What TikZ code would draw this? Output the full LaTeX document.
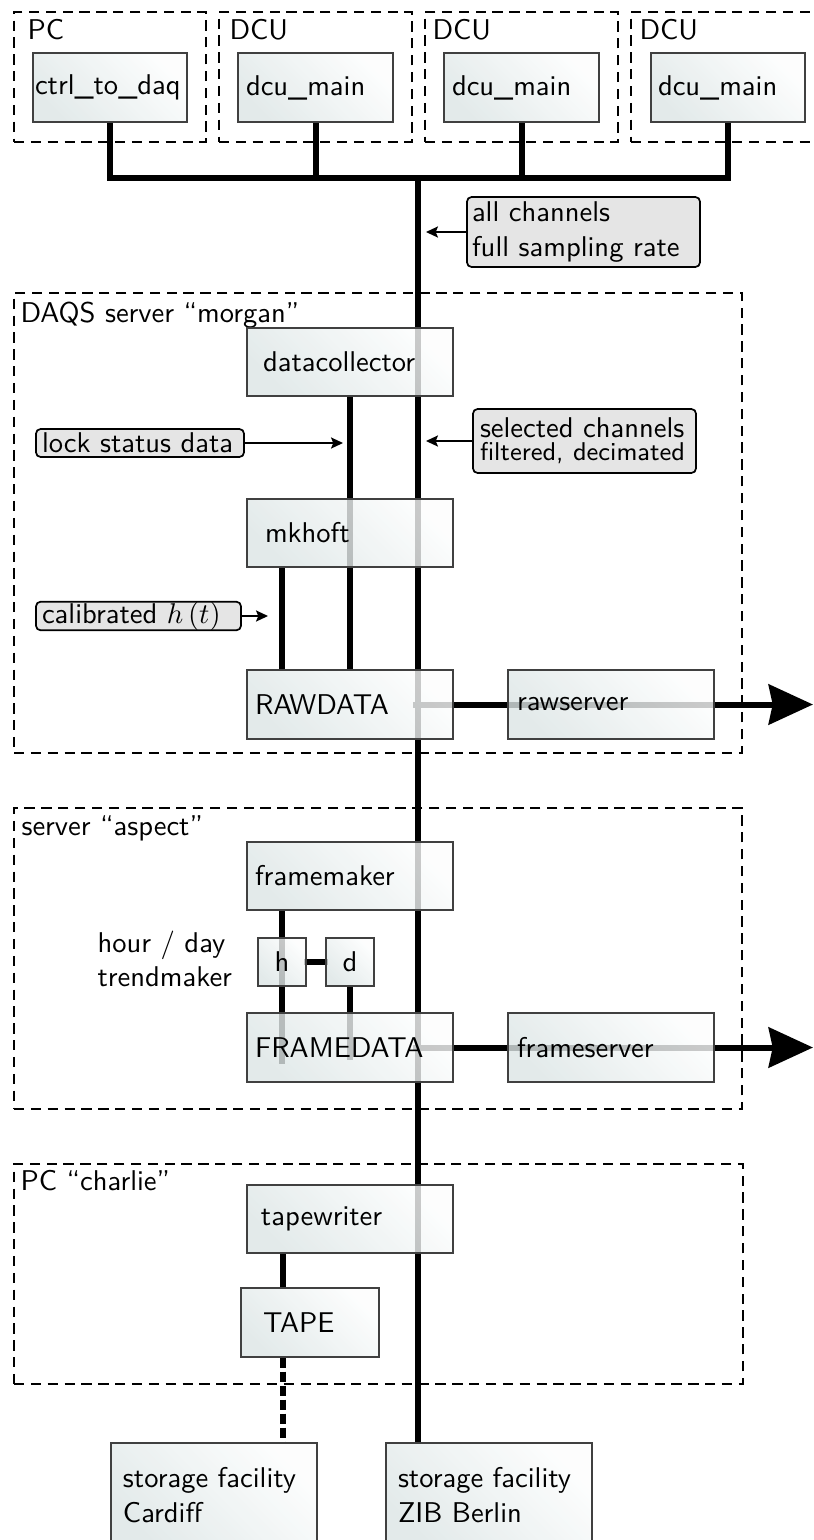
\documentclass[tikz,border=0pt]{standalone}
\usetikzlibrary{arrows.meta,calc}
\pgfdeclarelayer{bg}
\pgfsetlayers{bg,main}
\definecolor{boxA}{RGB}{220,229,229}
\definecolor{boxB}{RGB}{252,253,253}
\definecolor{infofill}{RGB}{229,229,229}
\tikzset{
  pbox/.code n args={3}{%
    \pgfmathsetlengthmacro\pbw{#1*0.35pt}%
    \pgfmathsetlengthmacro\pbh{#2*0.35pt}%
    \pgfmathsetlengthmacro\pbt{(#1-2*#3)*0.35pt}%
    \edef\pbtmp{\noexpand\tikzset{minimum width=\pbw,minimum height=\pbh,text width=\pbt}}\pbtmp},
  sz/.style 2 args={minimum width=#1*0.35pt, minimum height=#2*0.35pt},
  proc/.style={rectangle, draw=black!75, line width=0.45pt, left color=boxA, right color=boxB,
    shading angle=135, fill opacity=0.8, text opacity=1, draw opacity=1,
    inner sep=0pt, align=left, font=\sffamily},
  info/.style={rectangle, draw=black, line width=0.6pt, rounded corners=1.6pt, fill=infofill,
    inner sep=0pt, align=left, font=\sffamily},
  grp/.style={rectangle, draw=black, line width=0.85pt, dash pattern=on 3.6pt off 2.3pt, inner sep=0pt},
  grplabel/.style={anchor=base west, inner sep=0pt, font=\sffamily},
  bus/.style={line width=2.1pt},
  thinarrow/.style={line width=0.5pt, -{Stealth[length=4.2pt,width=3.9pt,inset=0.8pt]}},
  bigarrow/.style={line width=2.1pt, -{Stealth[length=15.5pt,width=14pt,inset=1.4pt]}},
}
\begin{document}
\begin{tikzpicture}[x=0.35pt,y=-0.35pt]
\useasboundingbox (0,0) rectangle (814,1540);

% group containers
\node[grp, sz={192}{130}] (gpc) at (110,77) {};
\node[grp, sz={193}{130}] (gdcua) at (315.5,77) {};
\node[grp, sz={193}{130}] (gdcub) at (521.5,77) {};
\node[grp, sz={193}{130}] (gdcuc) at (727.5,77) {};
\node[grp, sz={728}{460}] (gdaqs) at (378,523) {};
\node[grp, sz={728}{301}] (gaspect) at (378,958.5) {};
\node[grp, sz={729}{220}] (gcharlie) at (378.5,1274) {};

\node[grplabel] (lpc) at (27,39) {PC};
\node[grplabel] (ldcua) at (229,39) {DCU};
\node[grplabel] (ldcub) at (432,39) {DCU};
\node[grplabel] (ldcuc) at (639,39) {DCU};
\node[grplabel] (ldaqs) at (20,322) {DAQS server “morgan”};
\node[grplabel] (laspect) at (21,835) {server “aspect”};
\node[grplabel] (lcharlie) at (20,1190) {PC “charlie”};

% process boxes
\node[proc, pbox={154}{69}{2}] (ctrl) at (110,87.5) {ctrl\_to\_daq};
\node[proc, pbox={155}{69}{8}] (dcua) at (315.5,87.5) {dcu\_main};
\node[proc, pbox={155}{69}{8}] (dcub) at (521.5,87.5) {dcu\_main};
\node[proc, pbox={154}{69}{7}] (dcuc) at (728,87.5) {dcu\_main};

\node[proc, pbox={206}{68}{16}] (datacollector) at (350,362) {datacollector};
\node[proc, pbox={206}{68}{18}] (mkhoft) at (350,533) {mkhoft};
\node[proc, pbox={206}{69}{8}] (RAWDATA) at (350,704.5) {RAWDATA};
\node[proc, pbox={206}{69}{9}] (rawserver) at (611,704.5) {rawserver};

\node[proc, pbox={206}{68}{8}] (framemaker) at (350,876) {framemaker};
\node[proc, sz={48}{48}, align=center] (h) at (282,962) {h};
\node[proc, sz={48}{48}, align=center] (d) at (350,962) {d};
\node[proc, pbox={206}{69}{8}] (FRAMEDATA) at (350,1047.5) {FRAMEDATA};
\node[proc, pbox={206}{69}{9}] (frameserver) at (611,1047.5) {frameserver};
\node[anchor=west, align=left, inner sep=0pt, font=\sffamily] (trend) at (97,959) {hour / day\\trendmaker};

\node[proc, pbox={206}{68}{14}] (tapewriter) at (350,1219) {tapewriter};
\node[proc, pbox={138}{69}{22}] (TAPE) at (310,1322.5) {TAPE};
\node[proc, pbox={206}{104}{12}] (Cardiff) at (214,1495) {storage facility\\Cardiff};
\node[proc, pbox={206}{104}{12}] (ZIB) at (489,1495) {storage facility\\ZIB Berlin};

% info boxes
\node[info, pbox={233}{70}{5}] (allch) at (583.5,232) {all channels\\full sampling rate};
\node[info, pbox={223}{64}{7}] (sel) at (584.5,441) {selected channels\\[-4pt]{\small filtered, decimated}};
\node[info, pbox={208}{28}{6}] (lock) at (140,443) {lock status data};
\node[info, pbox={205}{28}{6}] (calib) at (138.5,616) {calibrated $h\left(t\right)$};

% helper coordinates
\coordinate (busy) at (0,178);
\coordinate (mx) at (418,0);
\coordinate (sx) at (413,0);
\coordinate (lx) at (282,0);
\coordinate (tx) at (283,0);
\coordinate (o1) at (813,704.5);
\coordinate (o2) at (813,1047.5);
\coordinate (aa) at (426,232);
\coordinate (sa) at (426,0);
\coordinate (la) at (343,443);
\coordinate (ca) at (268,616);

\begin{pgfonlayer}{bg}
  \draw[bus] (ctrl.south) |- (dcuc.south |- busy) -- (dcuc.south);
  \draw[bus] (dcua.south) -- (dcua.south |- busy);
  \draw[bus] (dcub.south) -- (dcub.south |- busy);
  \draw[bus] (mx |- busy) -- (ZIB.north -| mx);
  \draw[bus] (datacollector.south) -- (RAWDATA.north);
  \draw[bus] (mkhoft.south -| lx) -- (RAWDATA.north -| lx);
  \draw[bigarrow] (RAWDATA.center -| sx) -- (o1);
  \draw[bus] (framemaker.south -| h) -- ($(FRAMEDATA.center -| h)+(0,16)$);
  \draw[bus] (d.south) -- ($(FRAMEDATA.center -| d)+(0,12)$);
  \draw[bus, line cap=rect] (h.east) -- (d.west);
  \draw[bigarrow] (FRAMEDATA.center -| sx) -- (o2);
  \draw[bus] (tapewriter.south -| tx) -- (TAPE.north -| tx);
  \draw[bus, dash pattern=on 3.5pt off 1.4pt] (TAPE.south -| tx) -- (Cardiff.north -| tx);
\end{pgfonlayer}

\draw[thinarrow] (allch.west) -- (aa);
\draw[thinarrow] (sel.west) -- (sel.west -| sa);
\draw[thinarrow] (lock.east) -- (la);
\draw[thinarrow] (calib.east) -- (ca);
\end{tikzpicture}
\end{document}
